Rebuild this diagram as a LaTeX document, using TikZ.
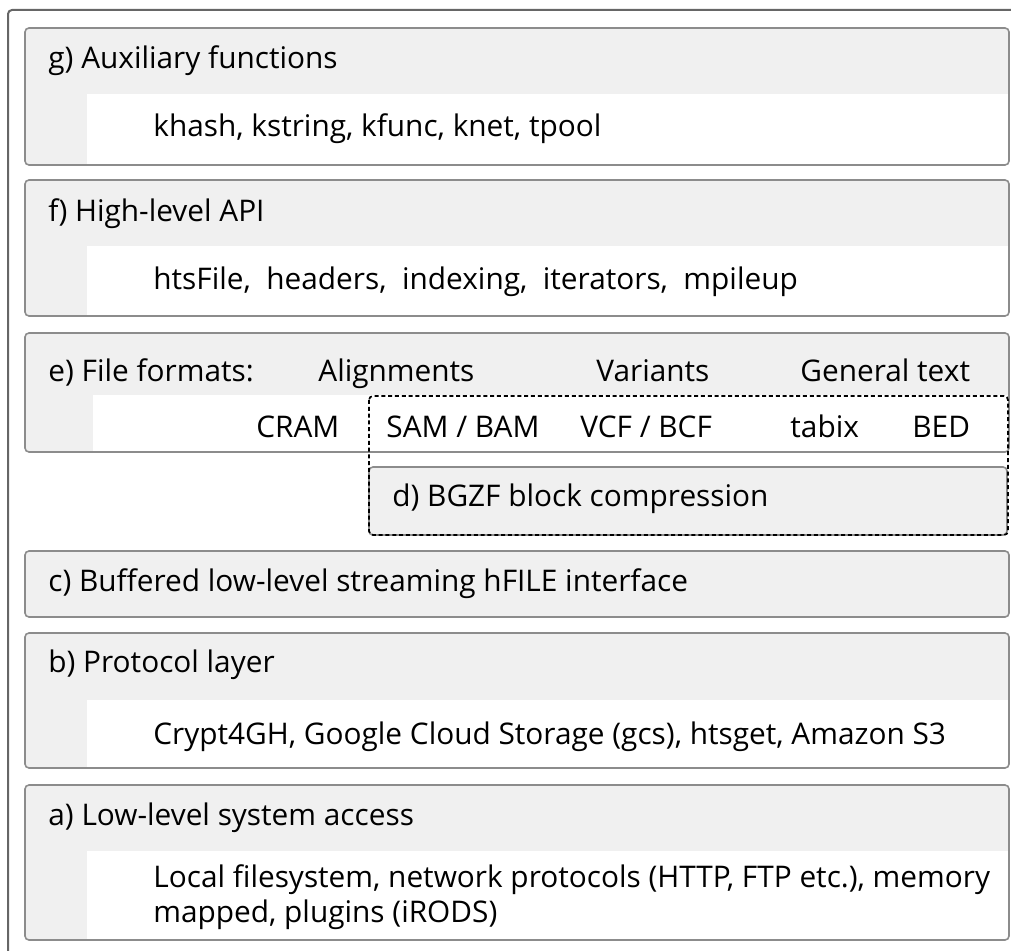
\documentclass[tikz,border=0pt]{standalone}
\usepackage{fontspec}
\setmainfont{Open Sans}
\usetikzlibrary{positioning}

\begin{document}
\begin{tikzpicture}[
  x=0.5pt, y=-0.5pt,
  font=\fontsize{14.9}{17.5}\selectfont,
  panel/.style  = {fill=black!6, rounded corners=2pt},
  rim/.style    = {draw=black!45, line width=0.8pt, rounded corners=2pt},
  frame/.style  = {draw=black!60, line width=1pt, rounded corners=2pt},
  dashbox/.style= {draw=black, line width=0.85pt, dash pattern=on 2pt off 1.4pt, rounded corners=2pt},
  txt/.style    = {anchor=base west, inner sep=0pt},
]

\useasboundingbox (0,0) rectangle (1011,951);

% outer frame (cut off at right and bottom)
\draw[frame] (8,960) -- (8,10) -- (1020,10);

% layers with a white body strip
\foreach \yt/\yb/\yi/\xi in {28/165/94/87, 180/316/246/87, 333/452/395/93,
                             633/768/700/87, 785/940/851/87}{
  \fill[panel] (25,\yt) rectangle (1009,\yb);
  \begin{scope}
    \clip[rounded corners=2pt] (25,\yt) rectangle (1009,\yb);
    \fill[white] (\xi,\yi) rectangle (1009,\yb);
  \end{scope}
  \draw[rim] (25,\yt) rectangle (1009,\yb);
}

% c) and d) have no body strip
\fill[panel] (25,551) rectangle (1009,617);
\draw[rim]   (25,551) rectangle (1009,617);
\fill[panel] (369,467) rectangle (1007,535);
\draw[rim]   (369,467) rectangle (1007,535);

% BGZF-based formats
\draw[dashbox] (369,396) rectangle (1008,535);

% g)
\node[txt] (gHead) at (48,69)  {g) Auxiliary functions};
\node[txt] (gBody) at (153,137) {khash, kstring, kfunc, knet, tpool};

% f)
\node[txt] (fHead) at (48,222)  {f) High-level API};
\node[txt] (fBody) at (153,290) {htsFile,~ headers,~ indexing,~ iterators,~ mpileup};

% e)
\node[txt] (eHead)  at (48,382)  {e) File formats:};
\node[txt] (eAln)   at (318,382) {Alignments};
\node[txt] (eVar)   at (596,382) {Variants};
\node[txt] (eGen)   at (800,382) {General text};
\node[txt] (eCram)  at (256,438) {CRAM};
\node[txt] (eSam)   at (386,438) {SAM / BAM};
\node[txt] (eVcf)   at (580,438) {VCF / BCF};
\node[txt] (eTabix) at (790,438) {tabix};
\node[txt] (eBed)   at (912,438) {BED};

% d)
\node[txt] (dHead) at (392,507) {d) BGZF block compression};

% c)
\node[txt] (cHead) at (48,591) {c) Buffered low-level streaming hFILE interface};

% b)
\node[txt] (bHead) at (48,672)  {b) Protocol layer};
\node[txt] (bBody) at (153,744) {Crypt4GH, Google Cloud Storage (gcs), htsget, Amazon S3};

% a)
\node[txt] (aHead) at (48,825) {a) Low-level system access};
\node[txt,align=left] (aBody) at (153,922)
  {Local filesystem, network protocols (HTTP, FTP etc.), memory\\
   mapped, plugins (iRODS)};

\end{tikzpicture}
\end{document}
